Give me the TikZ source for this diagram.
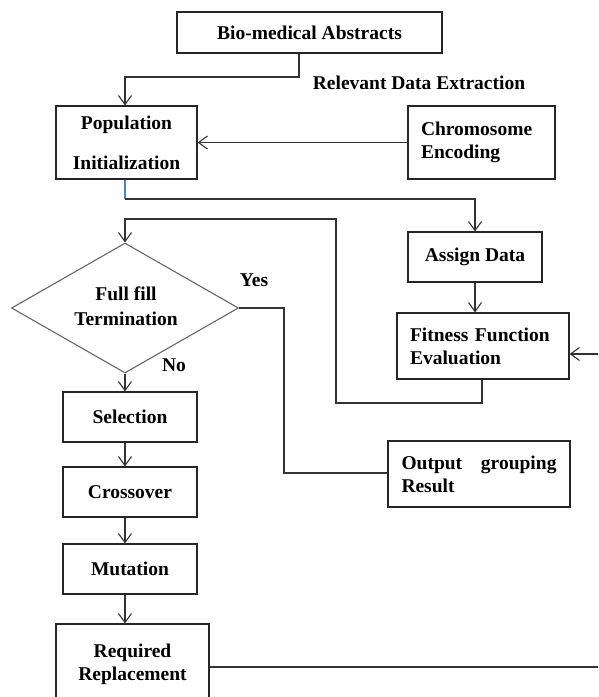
\documentclass[tikz,border=0pt]{standalone}
\usepackage{fontspec}
\setmainfont{Liberation Serif}
\usetikzlibrary{arrows.meta,shapes.geometric}
\begin{document}
\begin{tikzpicture}[x=1pt,y=-1pt,
  txt/.style={font=\bfseries\fontsize{19.5}{23}\selectfont},
  box/.style={txt, draw=black!85, line width=1.1pt, inner sep=0pt},
  lbl/.style={txt, inner sep=0pt},
  conn/.style={draw=black!80, line width=1.1pt},
  arr/.style={conn, -{Straight Barb[length=9pt,width=13pt,line width=1.1pt]}},
]
\path[use as bounding box] (0,0) rectangle (598,697);
\clip (0,0) rectangle (598,697);

% nodes
\node[box, minimum width=265pt, minimum height=41pt] (bio) at (309.5,32.5) {Bio-medical Abstracts};
\node[lbl] (rel) at (419,83) {Relevant Data Extraction};
\node[box, minimum width=141pt, minimum height=73pt, align=center,
      font=\bfseries\fontsize{19.5}{40}\selectfont] (pop) at (126.5,142.5) {Population\\Initialization};
\node[box, text width=121pt, inner xsep=13pt, minimum height=73pt, align=left] (chr) at (481.5,142.5) {Chromosome\\Encoding};
\node[box, minimum width=134pt, minimum height=50pt] (asg) at (475,257) {Assign Data};
\node[box, text width=146pt, inner xsep=13pt, minimum height=66pt, align=left] (fit) at (483,346) {Fitness Function\\Evaluation};
\node[draw=black!60, line width=1.1pt, diamond, minimum width=227pt, minimum height=130pt, inner sep=0pt] (dec) at (125,308) {};
\node[lbl, align=center, font=\bfseries\fontsize{19.5}{25}\selectfont] (dect) at (126,306) {Full fill\\Termination};
\node[lbl] (yes) at (254,280) {Yes};
\node[lbl] (no) at (174,365) {No};
\node[box, minimum width=134pt, minimum height=50pt] (sel) at (130,417) {Selection};
\node[box, minimum width=134pt, minimum height=50pt] (crs) at (130,492) {Crossover};
\node[box, minimum width=134pt, minimum height=50pt] (mut) at (130,569) {Mutation};
\node[box, text width=155pt, inner xsep=13.5pt, minimum height=66pt, align=left] (out) at (479,474) {Output\hfill grouping\\Result};
\node[box, minimum width=153pt, minimum height=80pt, align=center] (req) at (132.5,664) {Required\\Replacement};

% helper coordinates
\coordinate (k1) at (299,77);
\coordinate (k2) at (125,77);
\coordinate (k3) at (125,199);
\coordinate (k4) at (475,199);
\coordinate (k5) at (598,354);
\coordinate (k6) at (482,403);
\coordinate (k7) at (336,403);
\coordinate (k8) at (336,219);
\coordinate (k9) at (125,219);
\coordinate (k10) at (284,308);
\coordinate (k11) at (284,473);
\coordinate (k12) at (598,667);

% connectors
\draw[arr] (bio.south -| k1) -- (k1) -- (k2) -- (pop.north -| k2);
\draw[arr] (chr.west) -- (pop.east);
\draw[conn, draw={rgb,255:red,80;green,130;blue,190}] (pop.south -| k3) -- (k3);
\draw[arr] (k3) -- (k4) -- (asg.north);
\draw[arr] (asg.south) -- (fit.north -| asg.south);
\draw[arr] (k5) -- (fit.east |- k5);
\draw[arr] (fit.south -| k6) -- (k6) -- (k7) -- (k8) -- (k9) -- (dec.north);
\draw[conn] (dec.east) -- (k10) -- (k11) -- (out.west |- k11);
\draw[arr] (dec.south) -- (sel.north -| dec.south);
\draw[arr] (sel.south -| dec.south) -- (crs.north -| dec.south);
\draw[arr] (crs.south -| dec.south) -- (mut.north -| dec.south);
\draw[arr] (mut.south -| dec.south) -- (req.north -| dec.south);
\draw[conn] (req.east |- k12) -- (k12);
\end{tikzpicture}
\end{document}
